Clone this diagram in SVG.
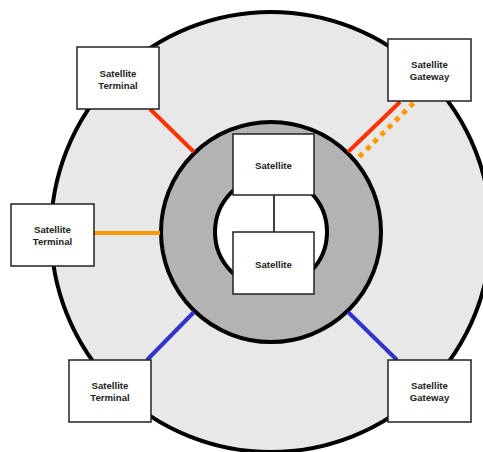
<svg xmlns="http://www.w3.org/2000/svg" width="483" height="452" viewBox="0 0 483 452">
  <style>
    .ring { stroke: #000; stroke-width: 4; }
    .node rect { fill: #fff; stroke: #222; stroke-width: 1.5; }
    .node text { font-family: "Liberation Sans", Arial, sans-serif; font-weight: bold; font-size: 9.6px; fill: #222; text-anchor: middle; }
    .link { stroke-width: 4; fill: none; }
    .red { stroke: #ff3300; }
    .orange { stroke: #ff9900; }
    .blue { stroke: #3333cc; }
    .dots { stroke: #ff9900; stroke-width: 5; stroke-dasharray: 5 5.2; fill: none; }
  </style>

  <!-- concentric zones -->
  <g id="zones">
    <circle class="ring" cx="271" cy="232" r="220" fill="#e8e8e8"/>
    <circle class="ring" cx="271" cy="232" r="110" fill="#b3b3b3"/>
    <circle class="ring" cx="271" cy="232" r="56" fill="#fff"/>
  </g>

  <!-- connectors -->
  <g id="connectors">
    <line class="link red" x1="150" y1="109" x2="194" y2="152"/>
    <line class="link red" x1="400" y1="102" x2="348" y2="152"/>
    <line class="dots" x1="413.5" y1="103" x2="359" y2="157"/>
    <line class="link orange" x1="94" y1="233" x2="160" y2="233"/>
    <line class="link blue" x1="147" y1="360" x2="194" y2="312"/>
    <line class="link blue" x1="348" y1="312" x2="397" y2="360"/>
    <line x1="274" y1="195" x2="274" y2="232" stroke="#000" stroke-width="1.5"/>
  </g>

  <!-- nodes -->
  <g id="sat-upper" class="node">
    <rect x="233" y="134" width="81" height="61"/>
    <text x="273.5" y="169">Satellite</text>
  </g>
  <g id="sat-lower" class="node">
    <rect x="233" y="232" width="81" height="62"/>
    <text x="273.5" y="268">Satellite</text>
  </g>
  <g id="terminal-top" class="node">
    <rect x="77" y="47" width="82" height="62"/>
    <text x="118" y="77">Satellite</text>
    <text x="118" y="89">Terminal</text>
  </g>
  <g id="gateway-top" class="node">
    <rect x="388" y="39" width="83" height="62"/>
    <text x="429.5" y="68">Satellite</text>
    <text x="429.5" y="80">Gateway</text>
  </g>
  <g id="terminal-left" class="node">
    <rect x="11" y="204" width="83" height="62"/>
    <text x="52.5" y="233">Satellite</text>
    <text x="52.5" y="245">Terminal</text>
  </g>
  <g id="terminal-bottom" class="node">
    <rect x="69" y="360" width="82" height="62"/>
    <text x="110" y="389">Satellite</text>
    <text x="110" y="401">Terminal</text>
  </g>
  <g id="gateway-bottom" class="node">
    <rect x="388" y="360" width="83" height="62"/>
    <text x="429.5" y="389">Satellite</text>
    <text x="429.5" y="401">Gateway</text>
  </g>
</svg>
